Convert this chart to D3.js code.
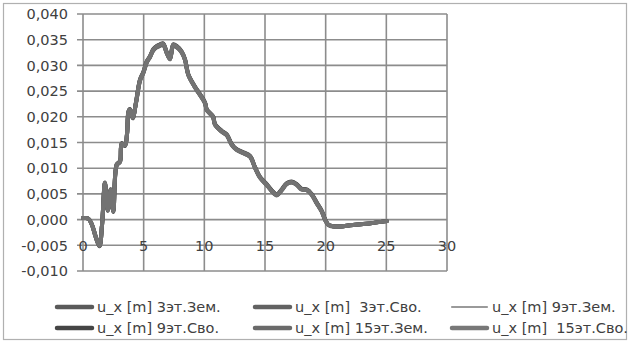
<!DOCTYPE html>
<html><head><meta charset="utf-8">
<script src="https://cdn.jsdelivr.net/npm/d3@7"></script>
<style>body{margin:0;background:#fff}svg{display:block}text{font-family:"DejaVu Sans",sans-serif;fill:#404040}</style>
</head><body><svg id="c" width="630" height="343"></svg>
<script>
const xTicks = [0,5,10,15,20,25,30];
const yTicks = [-0.010,-0.005,0,0.005,0.010,0.015,0.020,0.025,0.030,0.035,0.040];
const seriesNames = ["u_x [m] 3эт.Зем.","u_x [m]  3эт.Сво.","u_x [m] 9эт.Зем.","u_x [m] 9эт.Сво.","u_x [m] 15эт.Зем.","u_x [m]  15эт.Сво."];
const tX = [0,0.44,0.74,1.07,1.36,1.57,1.81,2.04,2.28,2.5,2.78,3.05,3.19,3.46,3.63,3.75,3.87,4.1,4.37,4.7,4.97,5.25,5.52,5.8,6.08,6.35,6.6,6.9,7.17,7.44,7.72,8.14,8.41,8.68,9.23,9.65,10.06,10.2,10.72,10.88,11.43,11.85,12.26,12.67,13.22,13.77,14.18,14.59,15.14,15.56,15.97,16.38,16.79,17.2,17.62,18.03,18.44,18.85,19.27,19.68,19.95,20.22,20.64,21.46,22,23.39,25.04];
const s3Zem = [0.0003,0.0002,-0.001,-0.0035,-0.0051,-0.001,0.0071,0.0018,0.0058,0.0016,0.0107,0.0113,0.0148,0.0144,0.0167,0.021,0.0214,0.0198,0.0228,0.0272,0.0286,0.0307,0.0317,0.0331,0.0337,0.034,0.0342,0.0325,0.0313,0.034,0.0337,0.0326,0.0311,0.0282,0.0258,0.0243,0.0227,0.0214,0.02,0.0185,0.0172,0.0165,0.0146,0.0136,0.013,0.0123,0.0101,0.0082,0.0068,0.0056,0.0048,0.0058,0.007,0.0073,0.0068,0.0059,0.0058,0.0049,0.0032,0.0016,0,-0.001,-0.0013,-0.0013,-0.0011,-0.0008,-0.0003];
const s3Svo = [0.0003,0.0002,-0.001,-0.0034,-0.005,-0.0011,0.007,0.0019,0.0057,0.0017,0.0105,0.0112,0.0146,0.0145,0.0166,0.0207,0.0212,0.0199,0.0227,0.027,0.0285,0.0305,0.0316,0.0329,0.0335,0.0338,0.034,0.0324,0.0312,0.0338,0.0335,0.0325,0.031,0.0281,0.0257,0.0242,0.0226,0.0213,0.0199,0.0185,0.0171,0.0164,0.0146,0.0136,0.0129,0.0122,0.0101,0.0082,0.0068,0.0056,0.0048,0.0058,0.0069,0.0072,0.0068,0.0059,0.0057,0.0049,0.0032,0.0016,0,-0.001,-0.0013,-0.0013,-0.0011,-0.0008,-0.0003];
const s9Zem = [0.0003,0.0002,-0.0009,-0.0034,-0.005,-0.001,0.0071,0.0018,0.0058,0.0016,0.0106,0.0113,0.0147,0.0144,0.0167,0.0209,0.0213,0.0198,0.0228,0.0271,0.0286,0.0306,0.0317,0.033,0.0336,0.0339,0.0341,0.0325,0.0313,0.0339,0.0336,0.0326,0.0311,0.0282,0.0258,0.0243,0.0227,0.0214,0.02,0.0185,0.0172,0.0165,0.0146,0.0136,0.013,0.0123,0.0101,0.0082,0.0068,0.0056,0.0048,0.0058,0.007,0.0073,0.0068,0.0059,0.0058,0.0049,0.0032,0.0016,0,-0.001,-0.0013,-0.0013,-0.0011,-0.0008,-0.0003];
const s9Svo = [0.0003,0.0002,-0.001,-0.0036,-0.0052,-0.001,0.0072,0.0017,0.0059,0.0015,0.0108,0.0114,0.0149,0.0143,0.0168,0.0211,0.0215,0.0197,0.0229,0.0273,0.0287,0.0308,0.0318,0.0332,0.0338,0.0341,0.0343,0.0326,0.0314,0.0341,0.0338,0.0327,0.0312,0.0283,0.0259,0.0244,0.0228,0.0215,0.0201,0.0186,0.0173,0.0166,0.0147,0.0137,0.0131,0.0124,0.0102,0.0083,0.0069,0.0057,0.0049,0.0059,0.0071,0.0074,0.0069,0.006,0.0059,0.005,0.0033,0.0017,0.0001,-0.001,-0.0013,-0.0013,-0.0011,-0.0008,-0.0003];
const s15Zem = [0.0003,0.0002,-0.0011,-0.0036,-0.0051,-0.0009,0.007,0.0019,0.0057,0.0017,0.0106,0.0112,0.0147,0.0145,0.0166,0.0208,0.0213,0.0199,0.0227,0.0271,0.0285,0.0306,0.0316,0.033,0.0336,0.0339,0.0341,0.0324,0.0312,0.0339,0.0336,0.0325,0.031,0.0281,0.0257,0.0242,0.0226,0.0213,0.0199,0.0184,0.0171,0.0164,0.0145,0.0135,0.0129,0.0122,0.01,0.0081,0.0067,0.0055,0.0047,0.0057,0.0069,0.0072,0.0067,0.0058,0.0057,0.0048,0.0031,0.0015,-0.0001,-0.0011,-0.0014,-0.0013,-0.0011,-0.0008,-0.0003];
const s15Svo = [0.0003,0.0002,-0.001,-0.0035,-0.0051,-0.001,0.0071,0.0018,0.0058,0.0016,0.0107,0.0113,0.0148,0.0144,0.0167,0.021,0.0214,0.0198,0.0228,0.0272,0.0286,0.0307,0.0317,0.0331,0.0337,0.034,0.0342,0.0325,0.0313,0.034,0.0337,0.0326,0.0311,0.0282,0.0258,0.0243,0.0227,0.0214,0.02,0.0185,0.0172,0.0165,0.0146,0.0136,0.013,0.0123,0.0101,0.0082,0.0068,0.0056,0.0048,0.0058,0.007,0.0073,0.0068,0.0059,0.0058,0.0049,0.0032,0.0016,0,-0.001,-0.0013,-0.0013,-0.0011,-0.0008,-0.0003];

const seriesVals = [s3Zem,s3Svo,s9Zem,s9Svo,s15Zem,s15Svo];
const colors = ["#5a5a5a","#626262","#9a9a9a","#454545","#6a6a6a","#787878"];
const widths = [4.5,4.5,2.2,4.5,4.5,4.5];

const svg = d3.select("#c");
svg.append("rect").attr("x",3.5).attr("y",3.5).attr("width",623).attr("height",336).attr("fill","#fff").attr("stroke","#b0b0b0").attr("stroke-width",1.2);

const x = d3.scaleLinear().domain([0,30]).range([83,447]);
const y = d3.scaleLinear().domain([-0.010,0.040]).range([271,14]);
const fmt = v => d3.format(".3f")(v).replace(".",",").replace("−","-");

svg.append("g").selectAll("line").data(yTicks).join("line")
  .attr("x1",77).attr("x2",x(30)).attr("y1",d=>y(d)).attr("y2",d=>y(d))
  .attr("stroke","#8c8c8c").attr("stroke-width",1.6);
svg.append("g").selectAll("line").data(xTicks).join("line")
  .attr("x1",d=>x(d)).attr("x2",d=>x(d)).attr("y1",y(0.040)).attr("y2",y(-0.010))
  .attr("stroke","#8c8c8c").attr("stroke-width",1.6);

svg.append("g").selectAll("text").data(yTicks).join("text")
  .attr("x",68).attr("y",d=>y(d)).attr("dy","0.36em").attr("text-anchor","end")
  .attr("font-size",14.5).text(fmt);
svg.append("g").selectAll("text").data(xTicks).join("text")
  .attr("x",d=>x(d)).attr("y",y(-0.005)).attr("dy","0.36em").attr("text-anchor","middle")
  .attr("font-size",14.5).text(d=>d);

const line = d3.line().x((d,i)=>x(tX[i])).y(d=>y(d)).curve(d3.curveCatmullRom.alpha(0.5));
seriesVals.forEach((vals,k)=>{
  svg.append("path").attr("d",line(vals)).attr("fill","none")
    .attr("stroke",k===5?"#737373":colors[k]).attr("stroke-width",k===2?2:4).attr("stroke-linejoin","round").attr("stroke-linecap","round");
});

const legCols = [57,255,452], legRows = [307,328];
seriesNames.forEach((n,k)=>{
  const cx = legCols[k%3], cy = legRows[Math.floor(k/3)];
  svg.append("line").attr("x1",cx).attr("x2",cx+35).attr("y1",cy).attr("y2",cy)
    .attr("stroke",colors[k]).attr("stroke-width",widths[k]).attr("stroke-linecap","round");
  svg.append("text").attr("x",cx+40).attr("y",cy).attr("dy","0.36em").attr("font-size",14.5)
    .style("white-space","pre").text(n);
});
</script></body></html>
